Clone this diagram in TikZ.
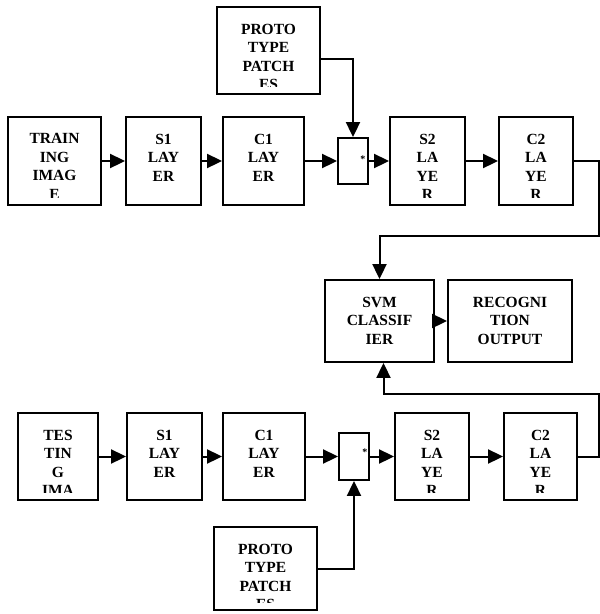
\documentclass[tikz,border=0pt]{standalone}
\usepackage{fontspec}
\setmainfont{Liberation Serif}
\usetikzlibrary{arrows.meta}

% text of a block, cut off at the bottom of the block
\newcommand{\blocktext}[2]{%
  \begin{scope}
    \clip ([xshift=2pt,yshift=8.5pt]#1.south west) rectangle ([xshift=-2pt]#1.north east);
    \node [lbl, anchor=north] (#1txt) at ([yshift=-17.5pt]#1.north) {#2};
  \end{scope}}

\begin{document}
\begin{tikzpicture}[x=1pt, y=-1pt,
        blk/.style={draw, line width=1.9pt, minimum height=88pt, inner sep=0pt},
        lbl/.style={inner sep=0pt, align=center, font=\fontsize{15.5}{18.5}\selectfont\bfseries},
        mult/.style={inner sep=0pt, font=\fontsize{10}{10}\selectfont\bfseries},
        conn/.style={line width=2pt, -{Triangle[length=15pt,width=14pt]}},
        wire/.style={line width=1.6pt}]
        \useasboundingbox (0,0) rectangle (600,614);

        % training row
        \node [blk, minimum width=103pt, minimum height=87pt] (protoA) at (268.5,50.5) {};
        \node [blk, minimum width=93pt] (trainA) at (54.5,161) {};
        \node [blk, minimum width=75pt] (s1A) at (163.5,161) {};
        \node [blk, minimum width=81pt] (c1A) at (263.5,161) {};
        \node [blk, minimum width=30pt, minimum height=46pt] (juncA) at (353,161) {};
        \node [blk, minimum width=75pt] (s2A) at (427.5,161) {};
        \node [blk, minimum width=74pt] (c2A) at (536,161) {};
        \node [mult] (multA) at ([xshift=-6pt,yshift=2pt]juncA.east) {*};

        \blocktext{protoA}{PROTO\\TYPE\\PATCH\\ES}
        \blocktext{trainA}{TRAIN\\ING\\IMAG\\E}
        \blocktext{s1A}{S1\\LAY\\ER}
        \blocktext{c1A}{C1\\LAY\\ER}
        \blocktext{s2A}{S2\\LA\\YE\\R}
        \blocktext{c2A}{C2\\LA\\YE\\R}

        % classifier
        \node [blk, minimum width=109pt, minimum height=82pt] (svm) at (379.5,321) {};
        \node [blk, minimum width=124pt, minimum height=82pt] (recog) at (510,321) {};
        \blocktext{svm}{SVM\\CLASSIF\\IER}
        \blocktext{recog}{RECOGNI\\TION\\OUTPUT}

        % testing row
        \node [blk, minimum width=80pt, minimum height=87pt] (testB) at (58,456.5) {};
        \node [blk, minimum width=75pt, minimum height=87pt] (s1B) at (164.5,456.5) {};
        \node [blk, minimum width=82pt, minimum height=87pt] (c1B) at (264,456.5) {};
        \node [blk, minimum width=30pt, minimum height=47pt] (juncB) at (354,456.5) {};
        \node [blk, minimum width=74pt, minimum height=87pt] (s2B) at (432,456.5) {};
        \node [blk, minimum width=73pt, minimum height=87pt] (c2B) at (540.5,456.5) {};
        \node [blk, minimum width=103pt, minimum height=83pt] (protoB) at (265.5,568.5) {};
        \node [mult] (multB) at ([xshift=-5pt,yshift=4pt]juncB.east) {*};

        \blocktext{testB}{TES\\TIN\\G\\IMA}
        \blocktext{s1B}{S1\\LAY\\ER}
        \blocktext{c1B}{C1\\LAY\\ER}
        \blocktext{s2B}{S2\\LA\\YE\\R}
        \blocktext{c2B}{C2\\LA\\YE\\R}
        \blocktext{protoB}{PROTO\\TYPE\\PATCH\\ES}

        \coordinate (bendA) at (599,236);
        \coordinate (bendB) at (599,394);

        \foreach \a/\b in {trainA/s1A, s1A/c1A, c1A/juncA, juncA/s2A, s2A/c2A,
                           testB/s1B, s1B/c1B, c1B/juncB, juncB/s2B, s2B/c2B, svm/recog}{
            \draw [conn] (\a.east) -- (\b.west);
        }

        \draw [conn] ([yshift=-8pt]protoA.east) -| (juncA.north);
        \draw [conn] (protoB.east) -| (juncB.south);
        \draw [conn] (c2A.east) -| (bendA) -| (svm.north);
        \draw [conn] (c2B.east) -| (bendB) -| ([xshift=4pt]svm.south);

    \end{tikzpicture}
\end{document}
